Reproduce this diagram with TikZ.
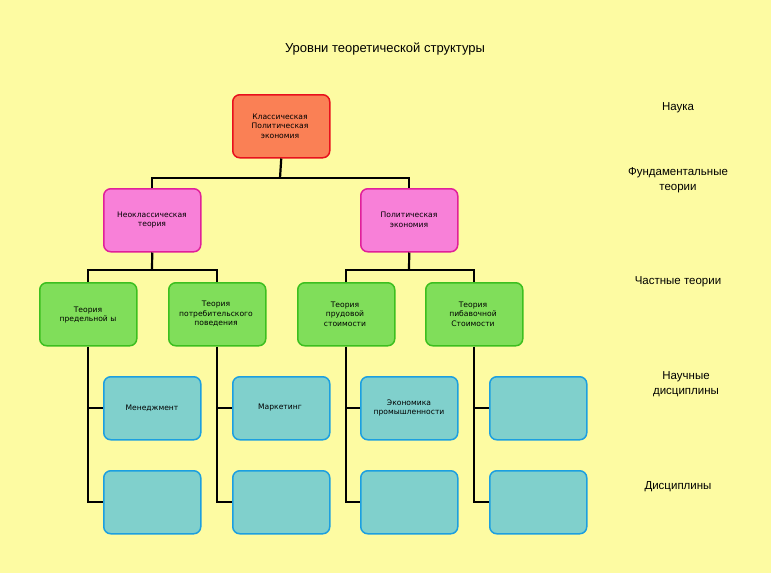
\documentclass[tikz,border=0pt]{standalone}
\usepackage{fontspec}
\setmainfont{Liberation Sans}
\newfontfamily\boxf{DejaVu Sans}
\begin{document}
\begin{tikzpicture}[x=1pt,y=-1pt,
 bx/.style={draw,line width=1.5pt,rounded corners=7pt,minimum width=97pt,minimum height=63pt,anchor=north west,inner sep=0pt},
 tx/.style={align=center,font=\boxf\fontsize{7.6}{9.6}\selectfont},
 lbl/.style={align=center,font=\fontsize{11.5}{15}\selectfont},
 ln/.style={line width=2.2pt}]
\definecolor{bg}{HTML}{FDFBA2}
\definecolor{rf}{HTML}{FA8055}\definecolor{rd}{HTML}{E8101C}
\definecolor{pf}{HTML}{F880D8}\definecolor{pd}{HTML}{E0209A}
\definecolor{gf}{HTML}{80DE5A}\definecolor{gd}{HTML}{3CBF1F}
\definecolor{cf}{HTML}{80D0CC}\definecolor{cd}{HTML}{1C9FE0}
\fill[bg] (0,0) rectangle (771,573);
\node[font=\fontsize{13}{15}\selectfont] (title) at (385,49) {Уровни теоретической структуры};
% boxes
\node[bx,draw=rd,fill=rf] (k) at (232,94) {};
\node[bx,draw=pd,fill=pf] (n) at (103,188) {};
\node[bx,draw=pd,fill=pf] (p) at (360,188) {};
\foreach \i/\x in {1/39,2/168,3/297,4/425}{\node[bx,draw=gd,fill=gf] (g\i) at (\x,282) {};}
\foreach \i/\x in {1/103,2/232,3/360,4/489}{
 \node[bx,draw=cd,fill=cf] (a\i) at (\x,376) {};
 \node[bx,draw=cd,fill=cf] (b\i) at (\x,470) {};}
% connectors
\draw[ln] (k.south) -- (280,178) coordinate (kc);
\draw[ln] (n.north) |- (kc) -| (p.north);
\draw[ln] (n.south) -- (152,270) coordinate (nc);
\draw[ln] (g1.north) |- (nc) -| (g2.north);
\draw[ln] (p.south) -- (409,270) coordinate (pc);
\draw[ln] (g3.north) |- (pc) -| (g4.north);
\foreach \i in {1,...,4}{
 \draw[ln] (g\i.south) |- (b\i.west);
 \draw[ln] (g\i.south |- a\i.west) -- (a\i.west);}
% texts
\node[tx] (tk) at (280,126) {Классическая\\Политическая\\экономия};
\node[tx] (tn) at (152,220) {Неоклассическая\\теория};
\node[tx] (tp) at (409,220) {Политическая\\экономия};
\node[tx] (tg1) at (88,315) {Теория\\предельной ы};
\node[tx] (tg2) at (216,314) {Теория\\потребительского\\поведения};
\node[tx] (tg3) at (345,314) {Теория\\прудовой\\стоимости};
\node[tx] (tg4) at (473,314) {Теория\\пибавочной\\Стоимости};
\node[tx] (ta1) at (152,408) {Менеджмент};
\node[tx] (ta2) at (280,408) {Маркетинг};
\node[tx] (ta3) at (409,408) {Экономика\\промышленности};
% right labels
\node[lbl] (l1) at (678,108) {Наука};
\node[lbl] (l2) at (678,180) {Фундаментальные\\теории};
\node[lbl] (l3) at (678,282) {Частные теории};
\node[lbl] (l4) at (686,384) {Научные\\дисциплины};
\node[lbl] (l5) at (678,487) {Дисциплины};
\end{tikzpicture}
\end{document}
